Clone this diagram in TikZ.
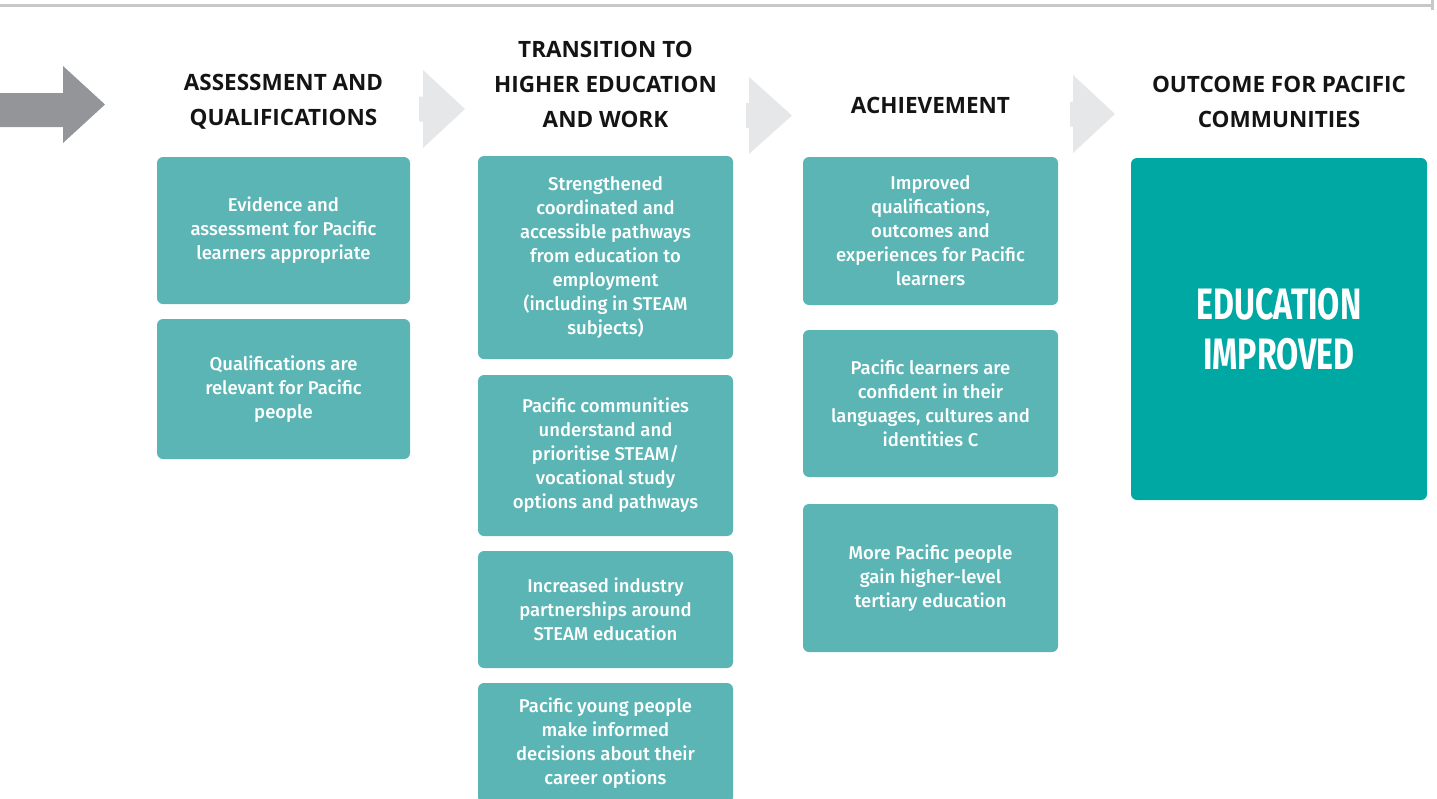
\documentclass[tikz,border=0pt]{standalone}
\usepackage{graphicx}
\usepackage{fontspec}
\setmainfont{Fira Sans}[UprightFont=* Medium,BoldFont=* Bold]
\newfontfamily\headfont{Open Sans}
\usetikzlibrary{positioning}
\definecolor{tealbox}{HTML}{5BB5B4}
\definecolor{tealdark}{HTML}{00A8A4}
\definecolor{chevgray}{HTML}{E6E7E8}
\definecolor{arrowgray}{HTML}{939598}
\definecolor{rulegray}{HTML}{C8C8C8}

\begin{document}
\begin{tikzpicture}[x=1pt,y=-1pt,
    head/.style   ={font=\headfont\bfseries\fontsize{22.5}{35}\selectfont,align=center,text=black!92},
    card/.style   ={fill=tealbox,rounded corners=6pt,text=white,align=center,inner sep=0pt,
                    font=\fontsize{18.5}{24}\selectfont},
    narrow/.style ={card,minimum width=253pt},
    wide/.style   ={card,minimum width=255pt},
    outcome/.style={fill=tealdark,rounded corners=6pt,text=white,align=center,inner sep=0pt,
                    font=\bfseries\fontsize{44}{50}\selectfont},
    chev/.style   ={fill=chevgray},
  ]
  \useasboundingbox (0,0) rectangle (1437,798);

  % top rule with end tick
  \draw[rulegray,line width=3pt] (0,5) -- (1432,5);
  \draw[rulegray,line width=3pt] (1432,0) -- (1432,10);

  % incoming arrow
  \fill[arrowgray] (0,93) -- (63,93) -- (63,66) -- (105,104.5) -- (63,143) -- (63,127) -- (0,127) -- cycle;

  % chevrons between columns
  \foreach \sx/\bx/\ax/\ty/\by/\cy in {419/423/465/70/148/109, 746/749/792/77/154/115.5, 1070/1073/1115/75/153/114} {
    \fill[chev] (\sx,\cy-12.5) -- (\bx,\cy-12.5) -- (\bx,\ty) -- (\ax,\cy) -- (\bx,\by)
                -- (\bx,\cy+12.5) -- (\sx,\cy+12.5) -- cycle;
  }

  % column headings
  \node[head] (hassess)  at (283.5,101.5) {ASSESSMENT AND\\QUALIFICATIONS};
  \node[head] (htrans)   at (605.5,84)    {TRANSITION TO\\HIGHER EDUCATION\\AND WORK};
  \node[head] (hachieve) at (930.5,105)   {ACHIEVEMENT};
  \node[head] (houtcome) at (1279,101.5)  {OUTCOME FOR PACIFIC\\COMMUNITIES};

  % assessment and qualifications
  \node[narrow,minimum height=147pt] (assess1) at (283.5,230.5)
    {Evidence and\\assessment for Pacific\\learners appropriate};
  \node[narrow,minimum height=140pt] (assess2) at (283.5,389)
    {Qualifications are\\relevant for Pacific\\people};

  % transition to higher education and work
  \node[wide,minimum height=203pt] (trans1) at (605.5,257.5)
    {Strengthened\\coordinated and\\accessible pathways\\from education to\\employment\\(including in STEAM\\subjects)};
  \node[wide,minimum height=161pt] (trans2) at (605.5,455.5)
    {Pacific communities\\understand and\\prioritise STEAM/\\vocational study\\options and pathways};
  \node[wide,minimum height=117pt] (trans3) at (605.5,609.5)
    {Increased industry\\partnerships around\\STEAM education};
  \node[wide,minimum height=120pt] (trans4) at (605.5,743)
    {Pacific young people\\make informed\\decisions about their\\career options};

  % achievement
  \node[wide,minimum height=148pt] (achieve1) at (930.5,231)
    {Improved\\qualifications,\\outcomes and\\experiences for Pacific\\learners};
  \node[wide,minimum height=147pt] (achieve2) at (930.5,403.5)
    {Pacific learners are\\confident in their\\languages, cultures and\\identities C};
  \node[wide,minimum height=148pt] (achieve3) at (930.5,578)
    {More Pacific people\\gain higher-level\\tertiary education};

  % outcome
  \node[outcome,minimum width=296pt,minimum height=342pt] (outcome) at (1279,329)
    {\scalebox{0.73}[1]{EDUCATION}\\\scalebox{0.73}[1]{IMPROVED}};
\end{tikzpicture}
\end{document}
